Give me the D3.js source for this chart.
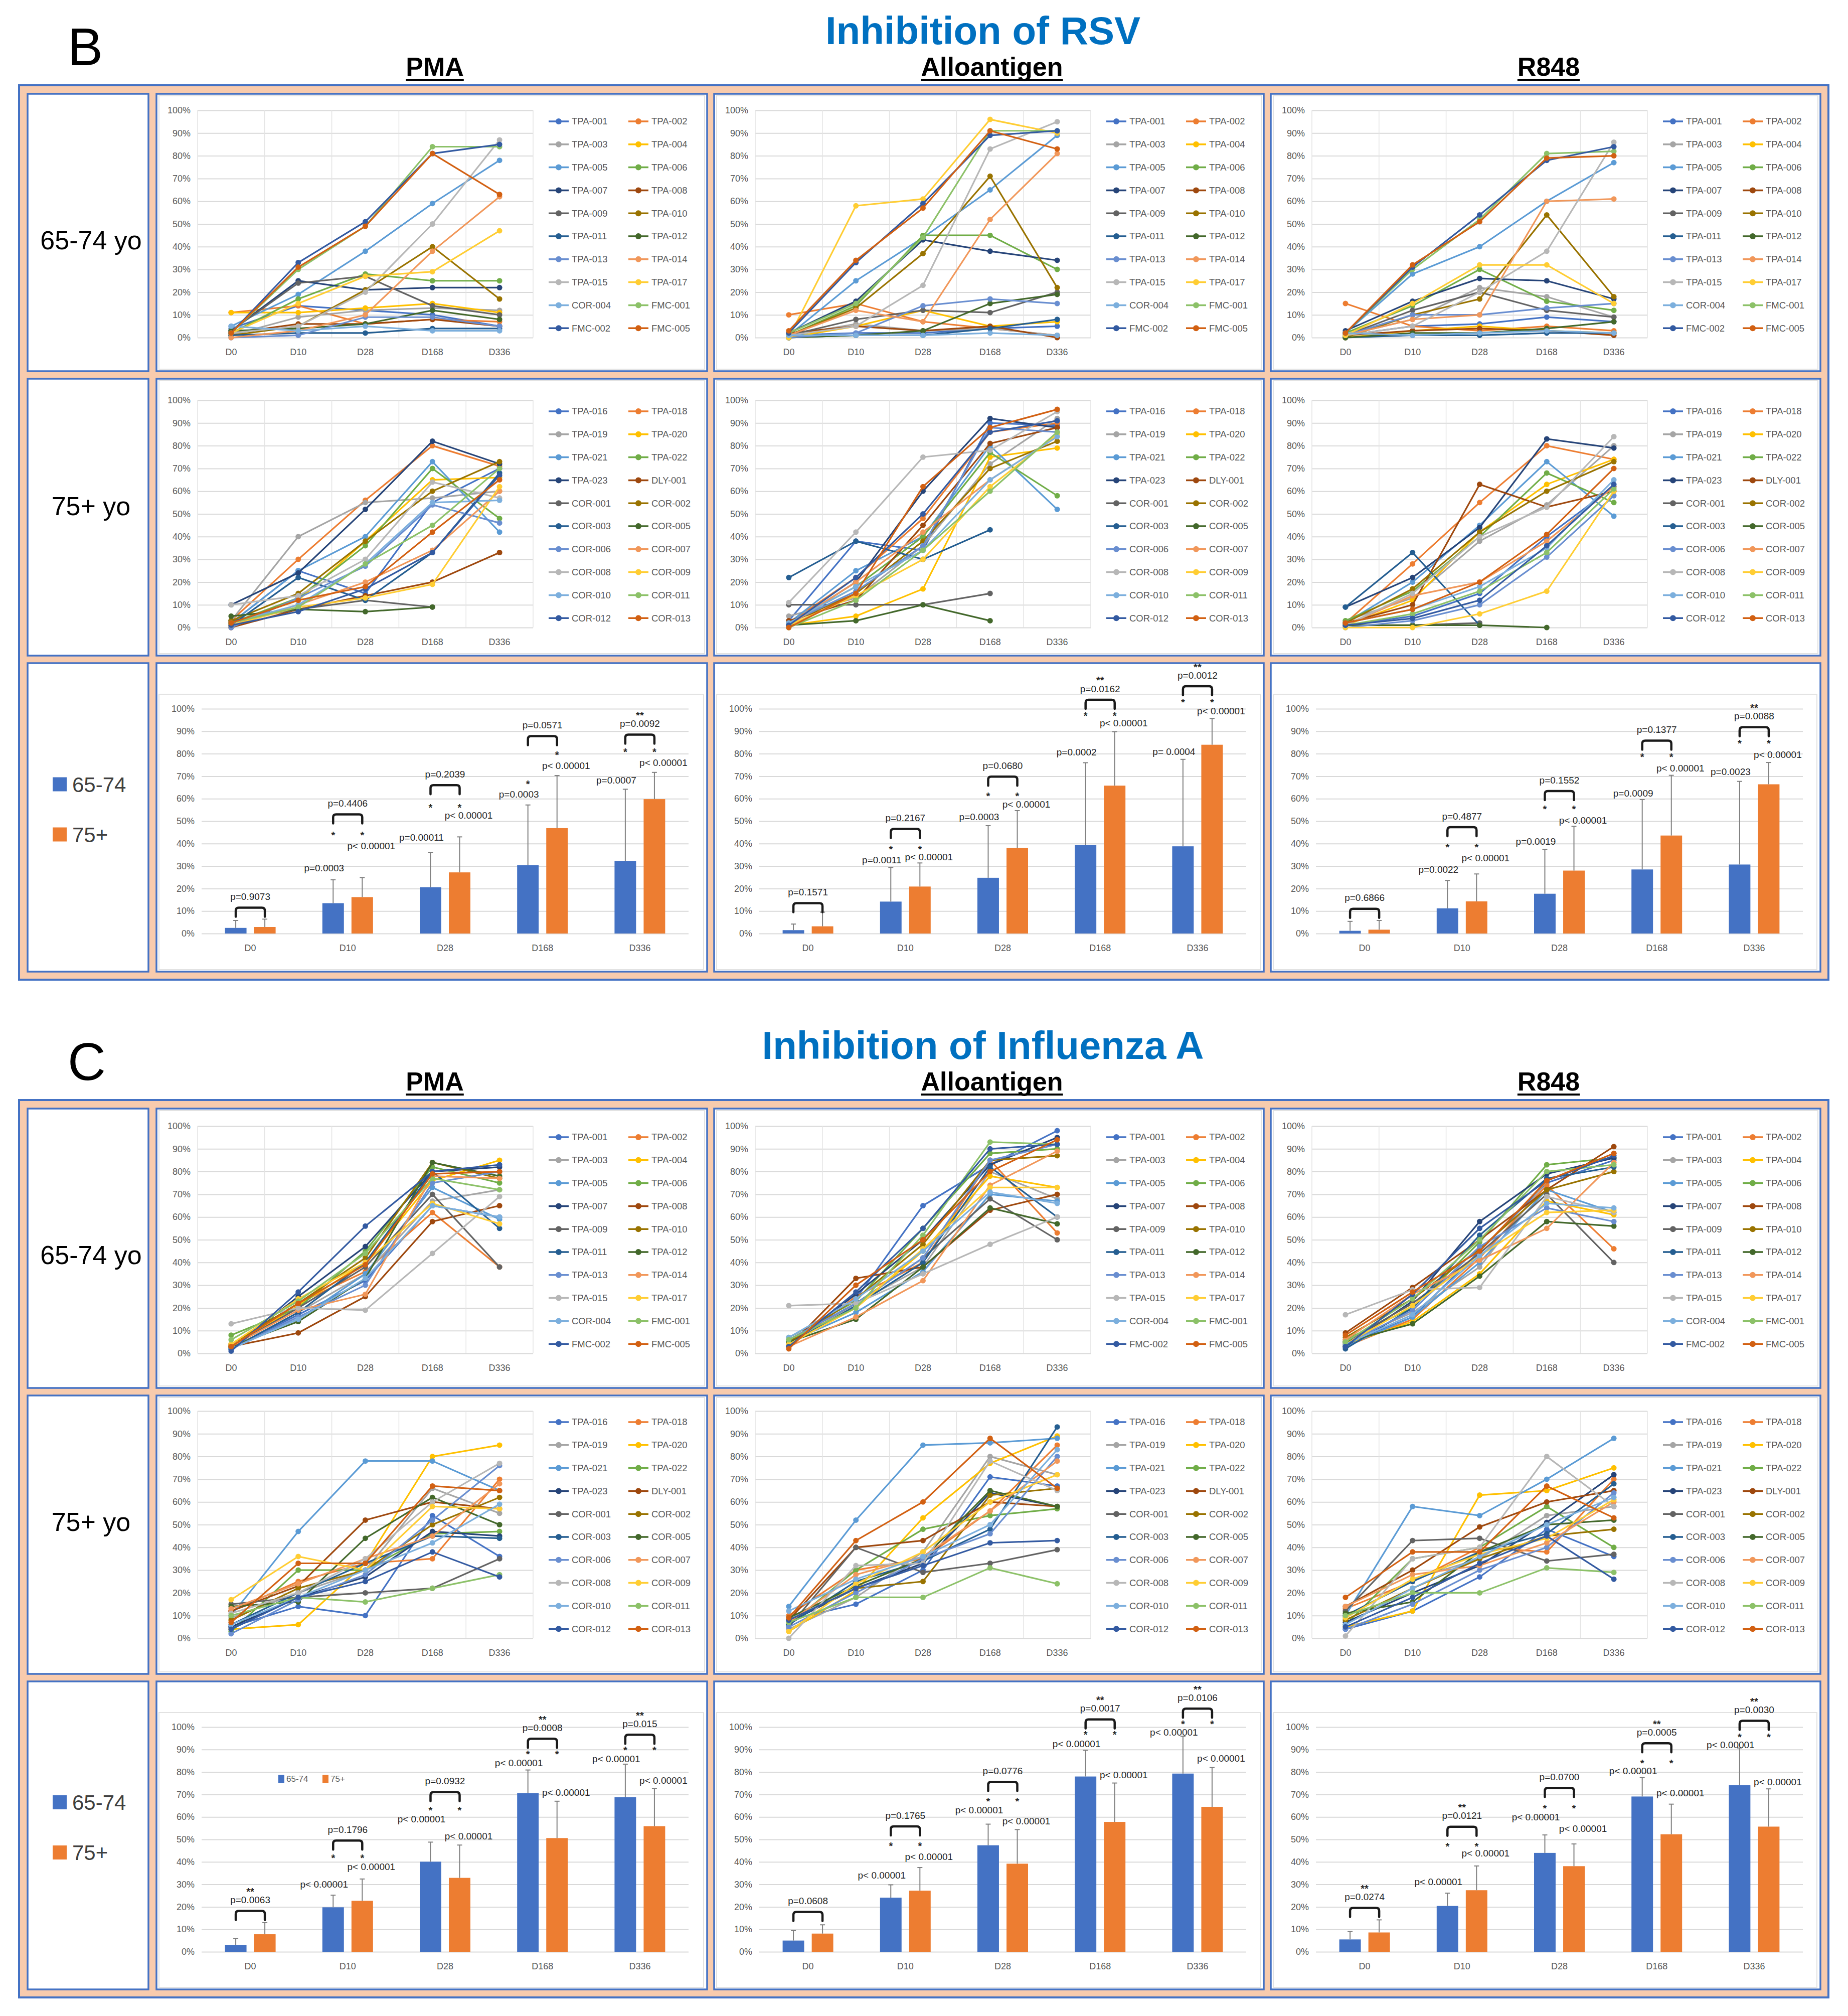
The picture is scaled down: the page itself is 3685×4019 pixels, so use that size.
<!DOCTYPE html>
<html lang="en">
<head>
<meta charset="UTF-8">
<title>Inhibition of RSV and Influenza A</title>
<script src="https://d3js.org/d3.v7.min.js"></script>
<style>
  body { margin: 0; background: #fff; }
  svg { display: block; font-family: "Liberation Sans", Arial, sans-serif; }
  .grid line { stroke: #d9d9d9; stroke-width: 2px; }
  .grid text, .xax text { fill: #595959; font-size: 18px; font-family: "Liberation Sans", Arial, sans-serif; }
  .vgrid { stroke: #e3e3e3; stroke-width: 1.5px; }
  .leg text { fill: #595959; font-size: 18.5px; }
  .plab { fill: #262626; font-size: 19px; }
  .star { fill: #262626; font-size: 20px; font-weight: bold; }
</style>
</head>
<body>
<script>
// ---- categories / labels ----
const days = ["D0", "D10", "D28", "D168", "D336"];
const ages = ["65-74", "75+"];
const stimuli = ["PMA", "Alloantigen", "R848"];
const rowLabels = ["65-74 yo", "75+ yo"];

const donorsYoung = ["TPA-001", "TPA-002", "TPA-003", "TPA-004", "TPA-005", "TPA-006", "TPA-007", "TPA-008",
  "TPA-009", "TPA-010", "TPA-011", "TPA-012", "TPA-013", "TPA-014", "TPA-015", "TPA-017",
  "COR-004", "FMC-001", "FMC-002", "FMC-005"];
const donorsOld = ["TPA-016", "TPA-018", "TPA-019", "TPA-020", "TPA-021", "TPA-022", "TPA-023", "DLY-001",
  "COR-001", "COR-002", "COR-003", "COR-005", "COR-006", "COR-007", "COR-008", "COR-009",
  "COR-010", "COR-011", "COR-012", "COR-013"];
const donorColors = ["#4472C4", "#ED7D31", "#A5A5A5", "#FFC000", "#5B9BD5", "#70AD47", "#264478", "#9E480E",
  "#636363", "#997300", "#255E91", "#43682B", "#698ED0", "#F1975A", "#B7B7B7", "#FFCD33",
  "#7CAFDD", "#8CC168", "#335AA1", "#D26012"];
const ageColors = ["#4472C4", "#ED7D31"];

// ---- individual donors, % inhibition (null = not measured) ----
const rsvPmaYoung = [[4,14,12,10,5],[11,14,6,8,7],[1,9,12,13,12],[11,11,13,15,11],[5,19,38,59,78],
  [2,17,28,25,25],[3,25,21,22,22],[2,6,6,8,5],[3,24,27,14,10],[1,5,21,40,17],
  [1,2,2,4,4],[3,4,6,12,8],[0,1,9,9,5],[0,3,10,38,62],[2,5,20,50,87],
  [2,15,27,29,47],[5,3,5,3,3],[2,30,49,84,84],[2,33,51,81,85],[2,31,49,81,63]];
const rsvAlloYoung = [[1,2,2,4,5],[10,15,7,4,1],[1,6,3,4,1],[0,5,12,5,7],[1,25,44,65,89],
  [1,14,45,45,30],[2,16,43,38,34],[2,5,3,5,0],[1,8,12,11,20],[1,13,37,71,22],
  [0,1,1,4,8],[0,1,3,15,19],[0,2,14,17,15],[1,12,7,52,81],[1,5,23,83,95],
  [0,58,61,96,90],[1,1,1,2,1],[2,15,44,91,91],[2,33,59,89,91],[3,34,57,91,83]];
const rsvR848Young = [[1,5,6,9,7],[15,5,3,5,3],[1,8,22,18,9],[0,3,5,3,2],[2,28,40,60,77],
  [2,14,30,16,12],[3,16,26,25,17],[1,3,4,3,1],[1,12,20,12,9],[0,10,17,54,18],
  [0,1,1,2,2],[0,2,2,4,7],[1,10,10,13,15],[1,8,10,60,61],[1,5,20,38,86],
  [1,15,32,32,15],[2,1,2,3,2],[2,30,52,81,82],[2,31,54,78,84],[2,32,51,79,80]];
const rsvPmaOld = [[2,25,15,55,70],[3,30,56,80,71],[3,40,55,57,60],[2,12,38,65,66],[2,25,40,73,42],
  [2,13,36,70,48],[10,24,52,82,72],[0,8,14,20,33],[3,8,12,9,null],[3,15,38,60,73],
  [1,22,12,33,68],[5,8,7,9,null],[0,13,27,54,46],[1,10,20,34,60],[10,14,30,64,57],
  [1,9,13,19,62],[2,10,28,55,56],[2,9,28,45,70],[1,7,17,33,67],[2,12,18,42,65]];
const rsvAlloOld = [[3,38,34,90,89],[2,22,48,86,90],[5,13,36,72,92],[1,5,17,75,79],[2,25,40,80,52],
  [2,18,40,77,58],[1,20,60,92,88],[3,12,45,81,88],[10,10,10,15,null],[2,15,38,70,82],
  [22,38,30,43,null],[1,3,10,3,null],[2,16,36,88,86],[1,20,42,65,84],[11,42,75,78,95],
  [1,14,30,62,85],[2,18,34,65,84],[0,12,34,60,86],[1,22,50,86,91],[0,15,62,88,96]];
const rsvR848Old = [[1,5,15,40,62],[2,28,55,80,74],[3,13,38,54,80],[1,12,42,63,74],[2,20,45,73,49],
  [3,16,40,68,55],[9,22,44,83,79],[2,10,63,53,60],[1,1,2,null,null],[2,17,42,60,73],
  [9,33,1,null,null],[1,1,1,0,null],[0,3,10,31,58],[1,14,20,38,62],[1,15,40,53,84],
  [0,0,6,16,60],[2,8,18,35,65],[1,6,16,33,61],[1,4,12,36,63],[2,8,20,41,70]];
const fluPmaYoung = [[2,17,32,65,60],[4,22,36,62,38],[2,18,35,67,72],[3,21,40,76,85],[3,15,35,73,59],
  [8,20,45,82,75],[2,25,47,80,82],[3,9,25,58,65],[3,20,38,70,38],[4,22,42,84,77],
  [2,18,40,80,55],[3,14,33,84,78],[2,16,30,75,80],[3,19,26,78,77],[13,20,19,44,69],
  [4,24,40,66,57],[2,15,33,65,60],[6,23,44,77,72],[1,27,56,80,83],[3,22,39,79,80]];
const fluAlloYoung = [[5,24,65,83,98],[3,25,40,85,53],[4,22,38,80,68],[6,20,45,78,73],[5,18,36,70,67],
  [7,23,55,88,90],[4,26,50,83,95],[3,33,38,63,70],[6,22,42,68,50],[5,24,48,85,87],
  [4,21,40,82,60],[5,15,38,64,57],[6,22,42,85,92],[3,16,32,74,89],[21,22,35,48,60],
  [4,20,46,73,73],[7,24,45,71,66],[6,20,52,93,92],[3,27,55,90,92],[2,30,50,80,94]];
const fluR848Young = [[4,16,45,75,85],[3,15,42,74,46],[5,18,38,76,88],[4,14,35,67,61],[3,16,40,72,62],
  [6,20,49,83,86],[3,23,58,79,86],[9,29,50,72,91],[5,22,44,70,40],[7,24,46,72,80],
  [2,20,52,77,82],[5,13,34,58,56],[4,19,47,64,58],[6,26,41,55,84],[17,28,29,69,62],
  [4,21,43,62,63],[4,17,43,66,64],[5,24,50,80,83],[3,26,55,76,87],[8,27,45,76,88]];
const fluPmaOld = [[5,14,10,54,36],[12,25,33,35,70],[9,20,30,66,55],[4,6,33,80,85],[10,47,78,78,65],
  [3,30,30,46,47],[5,18,27,47,45],[12,23,52,60,57],[15,18,20,22,35],[8,22,30,50,62],
  [6,20,33,45,44],[14,16,44,62,50],[2,17,28,52,76],[13,24,35,45,68],[11,20,35,60,77],
  [17,36,30,58,57],[6,18,30,42,59],[10,18,16,22,28],[4,18,25,38,27],[7,33,33,67,65]];
const fluAlloOld = [[8,15,30,71,67],[10,30,35,56,85],[4,18,38,80,72],[3,21,53,77,89],[14,52,85,86,88],
  [6,30,48,54,57],[7,22,33,64,58],[8,40,43,60,58],[5,40,29,33,39],[8,22,25,63,66],
  [6,25,34,48,93],[9,23,35,65,58],[5,20,35,46,80],[7,28,36,56,78],[0,32,33,78,65],
  [3,24,38,60,72],[12,26,36,50,83],[7,18,18,31,24],[8,22,32,42,43],[9,43,60,88,66]];
const fluR848Old = [[4,12,27,48,36],[13,25,40,38,70],[9,26,35,54,58],[5,12,63,65,75],[10,58,54,70,88],
  [6,35,40,58,40],[7,20,32,51,72],[14,30,49,60,65],[12,43,44,34,37],[8,22,35,45,48],
  [10,25,38,46,68],[11,16,38,50,52],[4,15,30,40,64],[14,28,32,42,60],[1,35,40,80,58],
  [9,26,37,44,61],[6,22,36,50,62],[10,20,20,31,29],[5,18,33,45,26],[18,38,38,67,53]];

// ---- group means and SD (%) ----
const rsvPmaMean65 = [2.5,13.5,20.6,30.4,32.3], rsvPmaSd65 = [3.3,10.4,15.4,26.8,31.9];
const rsvPmaMean75 = [2.9,16.2,27.2,46.9,59.8], rsvPmaSd75 = [3.5,8.7,15.8,23.4,11.9];
const rsvAlloMean65 = [1.5,14.2,24.8,39.3,38.8], rsvAlloSd65 = [2.7,15.2,23.2,36.7,38.7];
const rsvAlloMean75 = [3.2,20.9,38.1,65.8,84.0], rsvAlloSd75 = [6.3,10.5,16.6,24.0,11.7];
const rsvR848Mean65 = [1.2,11.2,17.7,28.5,30.7], rsvR848Sd65 = [4.2,12.4,19.8,31.1,37.0];
const rsvR848Mean75 = [1.7,14.3,28.0,43.6,66.4], rsvR848Sd75 = [4.1,12.2,19.7,26.8,9.7];
const fluPmaMean65 = [3.1,19.8,40.1,70.6,68.8], fluPmaSd65 = [2.9,5.4,8.7,10.3,14.7];
const fluPmaMean75 = [7.8,22.7,32.9,50.6,55.9], fluPmaSd75 = [5.2,9.7,14.6,16.4,16.8];
const fluAlloMean65 = [5.0,24.1,47.4,78.0,79.3], fluAlloSd65 = [4.4,5.7,9.4,11.7,16.6];
const fluAlloMean75 = [8.1,27.2,39.2,57.8,64.5], fluAlloSd75 = [3.9,10.3,15.2,17.3,17.5];
const fluR848Mean65 = [5.5,20.4,44.0,69.1,74.1], fluR848Sd65 = [3.6,5.7,8.0,8.4,16.6];
const fluR848Mean75 = [8.6,27.4,38.1,52.3,55.7], fluR848Sd75 = [5.6,10.8,9.9,13.4,16.8];

// ---- p-values ----
const LT = "p< 0.00001";
const rsvPmaPDiff = ["p=0.9073","p=0.4406","p=0.2039","p=0.0571","p=0.0092"];
const rsvPmaSig = ["","","","","**"];
const rsvPmaP65 = [null,"p=0.0003","p=0.00011","p=0.0003","p=0.0007"];
const rsvPmaP75 = [null,LT,LT,LT,LT];
const rsvAlloPDiff = ["p=0.1571","p=0.2167","p=0.0680","p=0.0162","p=0.0012"];
const rsvAlloSig = ["","","","**","**"];
const rsvAlloP65 = [null,"p=0.0011","p=0.0003","p=0.0002","p= 0.0004"];
const rsvAlloP75 = [null,LT,LT,LT,LT];
const rsvR848PDiff = ["p=0.6866","p=0.4877","p=0.1552","p=0.1377","p=0.0088"];
const rsvR848Sig = ["","","","","**"];
const rsvR848P65 = [null,"p=0.0022","p=0.0019","p=0.0009","p=0.0023"];
const rsvR848P75 = [null,LT,LT,LT,LT];
const fluPmaPDiff = ["p=0.0063","p=0.1796","p=0.0932","p=0.0008","p=0.015"];
const fluPmaSig = ["**","","","**","**"];
const fluAlloPDiff = ["p=0.0608","p=0.1765","p=0.0776","p=0.0017","p=0.0106"];
const fluAlloSig = ["","","","**","**"];
const fluR848PDiff = ["p=0.0274","p=0.0121","p=0.0700","p=0.0005","p=0.0030"];
const fluR848Sig = ["**","**","","**","**"];
const fluP = [null,LT,LT,LT,LT];

// annotation levels in %: [label 65-74, label 75+, star 65-74, star 75+, bracket foot]
const rsvPmaLevels = [[null,null,null,null,7.5],[29.2,38.9,45,45,49],[42.8,52.7,57.2,57.2,62],[61.9,74.6,67.7,80.6,83.8],[68.3,76,82,82,84.5]];
const rsvAlloLevels = [[null,null,null,null,9.5],[32.8,34,38.8,38.8,42.5],[52,57.5,62.4,62.4,65.8],[80.7,93.7,98,98,100]];
rsvAlloLevels.push([80.9,99,104,104,106]);
const rsvR848Levels = [[null,null,null,null,7],[28.4,33.6,39.6,39.6,43.3],[41.1,50.4,56.5,56.5,59.4],[62.5,73.5,79.8,79.8,81.8],[72,79.6,85.7,85.7,87.8]];
const fluPmaLevels = [[null,null,null,null,14.2],[30,37.8,43,43,45.5],[59.1,51.4,64.1,64.1,67],[84,70.9,89.2,89.2,90.8],[85.8,76.3,91,91,92.6]];
const fluAlloLevels = [[null,null,null,null,13.7],[34.1,42.4,48.2,48.2,51.8],[63.1,58.2,68.2,68.2,71.6],[92.6,78.8,97.8,97.8,99.4],[97.6,86,102.6,102.6,104.2]];
const fluR848Levels = [[null,null,null,null,15.5],[31.2,44,48,48,51.6],[60,54.9,65.1,65.1,68.9],[80.6,70.7,85.2,85.2,88.8],[92.1,75.6,96.8,96.8,98.8]];

// ---- page layout ----
const W = 3685, H = 4019;
const colX = [[55, 296], [312, 1410], [1424, 2520], [2534, 3630]];
const sections = [
  { letter: "B", title: "Inhibition of RSV", top: 170, bottom: 1953,
    rows: [[187, 740], [755, 1307], [1322, 1937]], plotTop: [33, 43], labelShift: [15, -22],
    lines: [[rsvPmaYoung, rsvPmaOld], [rsvAlloYoung, rsvAlloOld], [rsvR848Young, rsvR848Old]],
    bars: [
      { m: [rsvPmaMean65, rsvPmaMean75], sd: [rsvPmaSd65, rsvPmaSd75], diff: rsvPmaPDiff, sig: rsvPmaSig, p: [rsvPmaP65, rsvPmaP75], lev: rsvPmaLevels },
      { m: [rsvAlloMean65, rsvAlloMean75], sd: [rsvAlloSd65, rsvAlloSd75], diff: rsvAlloPDiff, sig: rsvAlloSig, p: [rsvAlloP65, rsvAlloP75], lev: rsvAlloLevels },
      { m: [rsvR848Mean65, rsvR848Mean75], sd: [rsvR848Sd65, rsvR848Sd75], diff: rsvR848PDiff, sig: rsvR848Sig, p: [rsvR848P65, rsvR848P75], lev: rsvR848Levels }
    ] },
  { letter: "C", title: "Inhibition of Influenza A", top: 2193, bottom: 3982,
    rows: [[2210, 2767], [2782, 3337], [3352, 3966]], plotTop: [35, 31], labelShift: [13, -26],
    lines: [[fluPmaYoung, fluPmaOld], [fluAlloYoung, fluAlloOld], [fluR848Young, fluR848Old]],
    bars: [
      { m: [fluPmaMean65, fluPmaMean75], sd: [fluPmaSd65, fluPmaSd75], diff: fluPmaPDiff, sig: fluPmaSig, p: [fluP, fluP], lev: fluPmaLevels, innerLegend: true },
      { m: [fluAlloMean65, fluAlloMean75], sd: [fluAlloSd65, fluAlloSd75], diff: fluAlloPDiff, sig: fluAlloSig, p: [fluP, fluP], lev: fluAlloLevels },
      { m: [fluR848Mean65, fluR848Mean75], sd: [fluR848Sd65, fluR848Sd75], diff: fluR848PDiff, sig: fluR848Sig, p: [fluP, fluP], lev: fluR848Levels }
    ] }
];

const svg = d3.select("body").append("svg").attr("width", W).attr("height", H);
svg.append("rect").attr("width", W).attr("height", H).attr("fill", "#fff");

function lineChart(g, cx0, cy0, cx1, cy1, top, names, series) {
  g.append("rect").attr("x", cx0 + 5).attr("y", cy0 + 4).attr("width", cx1 - cx0 - 10).attr("height", cy1 - cy0 - 8)
    .attr("fill", "#fff").attr("stroke", "#e2e2e2").attr("stroke-width", 2);
  const xb = d3.scaleBand().domain(days).range([cx0 + 82, cx0 + 751]);
  const xp = d => xb(d) + xb.bandwidth() / 2;
  const y = d3.scaleLinear().domain([0, 100]).range([cy0 + top + 453, cy0 + top]);
  const [r0, r1] = xb.range();

  g.append("g").attr("class", "grid").attr("transform", `translate(${r0},0)`)
    .call(d3.axisLeft(y).tickValues(d3.range(0, 101, 10)).tickSize(-(r1 - r0)).tickPadding(14).tickFormat(d => d + "%"))
    .call(a => a.select(".domain").remove());
  g.append("g").selectAll("line").data(days).join("line").attr("class", "vgrid")
    .attr("x1", d => xb(d)).attr("x2", d => xb(d)).attr("y1", y(100)).attr("y2", y(0));
  g.append("line").attr("class", "vgrid").attr("x1", r1).attr("x2", r1).attr("y1", y(100)).attr("y2", y(0));
  g.append("g").attr("class", "xax").attr("transform", `translate(0,${y(0)})`)
    .call(d3.axisBottom(xb).tickSize(0).tickPadding(22))
    .call(a => a.select(".domain").remove());

  const line = d3.line().defined(v => v != null).x((v, i) => xp(days[i])).y(v => y(v));
  series.forEach((s, k) => {
    const c = donorColors[k];
    g.append("path").attr("d", line(s)).attr("fill", "none").attr("stroke", c).attr("stroke-width", 3.2);
    g.append("g").selectAll("circle").data(s.map((v, i) => [i, v]).filter(d => d[1] != null)).join("circle")
      .attr("cx", d => xp(days[d[0]])).attr("cy", d => y(d[1])).attr("r", 5.5).attr("fill", c);
  });

  const leg = g.append("g").attr("class", "leg");
  names.forEach((n, k) => {
    const lx = cx0 + (k % 2 ? 961 : 802), ly = cy0 + top + 22 + Math.floor(k / 2) * 45.8;
    leg.append("line").attr("x1", lx - 20).attr("x2", lx + 20).attr("y1", ly).attr("y2", ly)
      .attr("stroke", donorColors[k]).attr("stroke-width", 3.5);
    leg.append("circle").attr("cx", lx).attr("cy", ly).attr("r", 6).attr("fill", donorColors[k]);
    leg.append("text").attr("x", lx + 26).attr("y", ly).attr("dy", "0.35em").text(n);
  });
}

function barChart(g, cx0, cy0, cx1, cy1, p) {
  g.append("rect").attr("x", cx0 + 5).attr("y", cy0 + 62).attr("width", cx1 - cx0 - 12).attr("height", cy1 - cy0 - 66)
    .attr("fill", "#fff").attr("stroke", "#e2e2e2").attr("stroke-width", 2);
  const xb = d3.scaleBand().domain(days).range([cx0 + 90, cx0 + 1061]);
  const bw = xb.bandwidth();
  const xs = d3.scaleBand().domain(ages).range([bw * 0.24, bw * 0.76]).paddingInner(0.26);
  const y = d3.scaleLinear().domain([0, 100]).range([cy0 + 539, cy0 + 91]);
  const [r0, r1] = xb.range();

  g.append("g").attr("class", "grid").attr("transform", `translate(${r0},0)`)
    .call(d3.axisLeft(y).tickValues(d3.range(0, 101, 10)).tickSize(-(r1 - r0)).tickPadding(14).tickFormat(d => d + "%"))
    .call(a => a.select(".domain").remove());
  g.append("g").attr("class", "xax").attr("transform", `translate(0,${y(0)})`)
    .call(d3.axisBottom(xb).tickSize(0).tickPadding(22))
    .call(a => a.select(".domain").remove());

  const cxOf = (i, a) => xb(days[i]) + xs(ages[a]) + xs.bandwidth() / 2;

  ages.forEach((age, a) => {
    const rows = days.map((d, i) => ({ i, m: p.m[a][i], top: p.m[a][i] + p.sd[a][i] }));
    g.append("g").selectAll("rect").data(rows).join("rect")
      .attr("x", d => xb(days[d.i]) + xs(age)).attr("width", xs.bandwidth())
      .attr("y", d => y(d.m)).attr("height", d => y(0) - y(d.m)).attr("fill", ageColors[a]);
    const eb = g.append("g").attr("stroke", "#808080").attr("stroke-width", 2);
    eb.selectAll(".v").data(rows).join("line").attr("class", "v")
      .attr("x1", d => cxOf(d.i, a)).attr("x2", d => cxOf(d.i, a)).attr("y1", d => y(d.m)).attr("y2", d => y(d.top));
    eb.selectAll(".c").data(rows).join("line").attr("class", "c")
      .attr("x1", d => cxOf(d.i, a) - 5).attr("x2", d => cxOf(d.i, a) + 5).attr("y1", d => y(d.top)).attr("y2", d => y(d.top));
  });

  days.forEach((d, i) => {
    const [l65, l75, s65, s75, br] = p.lev[i];
    const a = cxOf(i, 0), b = cxOf(i, 1);
    const yb = y(br), yt = yb - 18, r = 6;
    g.append("path").attr("d", `M${a},${yb} V${yt + r} Q${a},${yt} ${a + r},${yt} H${b - r} Q${b},${yt} ${b},${yt + r} V${yb}`)
      .attr("fill", "none").attr("stroke", "#1a1a1a").attr("stroke-width", 4.5).attr("stroke-linecap", "round");
    g.append("text").attr("class", "plab").attr("x", (a + b) / 2).attr("y", yt - 22).attr("dy", "0.35em")
      .attr("text-anchor", "middle").text(p.diff[i]);
    if (p.sig[i]) g.append("text").attr("class", "star").attr("x", (a + b) / 2).attr("y", yt - 44).attr("dy", "0.62em")
      .attr("text-anchor", "middle").text(p.sig[i]);
    if (l65 != null) {
      g.append("text").attr("class", "plab").attr("x", a - 18).attr("y", y(l65)).attr("dy", "0.35em")
        .attr("text-anchor", "middle").text(p.p[0][i]);
      g.append("text").attr("class", "plab").attr("x", b + 18).attr("y", y(l75)).attr("dy", "0.35em")
        .attr("text-anchor", "middle").text(p.p[1][i]);
      [[a, s65], [b, s75]].forEach(([sx, sv]) => g.append("text").attr("class", "star").attr("x", sx).attr("y", y(sv))
        .attr("dy", "0.62em").attr("text-anchor", "middle").text("*"));
    }
  });

  if (p.innerLegend) {
    const il = g.append("g").attr("class", "leg");
    ages.forEach((age, a) => {
      const lx = cx0 + 243 + a * 88, ly = y(77);
      il.append("rect").attr("x", lx).attr("y", ly - 8).attr("width", 12).attr("height", 16).attr("fill", ageColors[a]);
      il.append("text").attr("x", lx + 16).attr("y", ly).attr("dy", "0.35em").style("font-size", "17px").text(age);
    });
  }
}

sections.forEach(s => {
  const g = svg.append("g");
  g.append("text").attr("x", 135).attr("y", s.top - 40).attr("font-size", 105).attr("fill", "#000").text(s.letter);
  g.append("text").attr("x", 1960).attr("y", s.top - 82).attr("text-anchor", "middle").attr("font-size", 78)
    .attr("font-weight", "bold").attr("fill", "#0070C0").text(s.title);
  stimuli.forEach((st, c) => {
    const cx = (colX[c + 1][0] + colX[c + 1][1]) / 2 + 6;
    const t = g.append("text").attr("x", cx).attr("y", s.top - 19).attr("text-anchor", "middle")
      .attr("font-size", 52).attr("font-weight", "bold").attr("fill", "#000").text(st);
    const w = t.node().getComputedTextLength();
    g.append("line").attr("x1", cx - w / 2).attr("x2", cx + w / 2).attr("y1", s.top - 11).attr("y2", s.top - 11)
      .attr("stroke", "#000").attr("stroke-width", 4);
  });

  // table with peach cell spacing and blue borders
  g.append("rect").attr("x", 38).attr("y", s.top).attr("width", 3646 - 38).attr("height", s.bottom - s.top)
    .attr("fill", "#F8CBAD").attr("stroke", "#4472C4").attr("stroke-width", 4);
  s.rows.forEach(r => colX.forEach(c => g.append("rect").attr("x", c[0]).attr("y", r[0])
    .attr("width", c[1] - c[0]).attr("height", r[1] - r[0]).attr("fill", "#fff")
    .attr("stroke", "#4472C4").attr("stroke-width", 3.5)));

  // row labels
  rowLabels.forEach((lab, r) => {
    g.append("text").attr("x", (colX[0][0] + colX[0][1]) / 2 + 6).attr("y", (s.rows[r][0] + s.rows[r][1]) / 2 + s.labelShift[r])
      .attr("dy", "0.35em").attr("text-anchor", "middle").attr("font-size", 52).attr("fill", "#000").text(lab);
  });
  const mid3 = (s.rows[2][0] + s.rows[2][1]) / 2;
  ages.forEach((age, a) => {
    const ly = mid3 + (a ? 34 : -66);
    g.append("rect").attr("x", 105).attr("y", ly - 14).attr("width", 28).attr("height", 28).attr("fill", ageColors[a]);
    g.append("text").attr("x", 144).attr("y", ly).attr("dy", "0.36em").attr("font-size", 42).attr("fill", "#404040").text(age);
  });

  // charts
  stimuli.forEach((st, c) => {
    const [x0, x1] = colX[c + 1];
    [0, 1].forEach(r => {
      lineChart(g.append("g"), x0, s.rows[r][0], x1, s.rows[r][1], s.plotTop[r], r ? donorsOld : donorsYoung, s.lines[c][r]);
    });
    barChart(g.append("g"), x0, s.rows[2][0], x1, s.rows[2][1], s.bars[c]);
  });
});
</script>
</body>
</html>
